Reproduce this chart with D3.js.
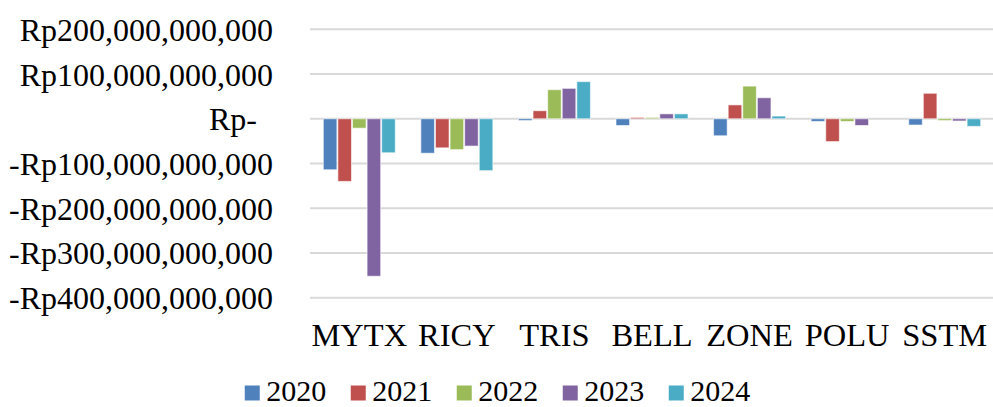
<!DOCTYPE html>
<html>
<head>
<meta charset="utf-8">
<script src="https://cdn.jsdelivr.net/npm/d3@7"></script>
<style>
  body { margin: 0; background: #fff; }
  svg { display: block; }
</style>
</head>
<body>
<div id="chart"></div>
<script>
const width = 993
const height = 407

// data (Rupiah)
const companies = ["MYTX", "RICY", "TRIS", "BELL", "ZONE", "POLU", "SSTM"]
const years = ["2020", "2021", "2022", "2023", "2024"]
const v2020 = [-114e9, -77e9, -4e9, -15e9, -38e9, -6e9, -14e9]
const v2021 = [-140e9, -65e9, 18e9, 3e9, 31e9, -51e9, 57e9]
const v2022 = [-21e9, -69e9, 65e9, 3e9, 73e9, -6e9, -4e9]
const v2023 = [-352e9, -61e9, 68e9, 11e9, 47e9, -15e9, -5e9]
const v2024 = [-76e9, -116e9, 83e9, 11e9, 6e9, 0, -17e9]
const yTicks = [200e9, 100e9, 0, -100e9, -200e9, -300e9, -400e9]
const colors = ["#4F81BD", "#C0504D", "#9BBB59", "#8064A2", "#4BACC6"]

const series = [v2020, v2021, v2022, v2023, v2024]

const font = "'Liberation Serif', 'Times New Roman', serif"

const svg = d3.select("#chart").append("svg")
    .attr("width", width)
    .attr("height", height)

const x0 = d3.scaleBand()
    .domain(companies)
    .range([310.5, 993.5])
    .paddingInner(0.252)
    .paddingOuter(0.126)

const x1 = d3.scaleBand()
    .domain(years)
    .range([0, x0.bandwidth()])

const y = d3.scaleLinear()
    .domain([-400e9, 200e9])
    .range([297.7, 29.3])

// gridlines
svg.append("g")
    .selectAll("line")
    .data(yTicks)
    .join("line")
    .attr("x1", 310)
    .attr("x2", width)
    .attr("y1", d => y(d))
    .attr("y2", d => y(d))
    .attr("stroke", "#d9d9d9")
    .attr("stroke-width", 2)

// y labels
const fmt = d3.format(",")
const yLabel = d => d === 0 ? "Rp-" : (d < 0 ? "-Rp" : "Rp") + fmt(Math.abs(d))

svg.append("g")
    .selectAll("text")
    .data(yTicks)
    .join("text")
    .attr("x", d => d === 0 ? 257 : 273)
    .attr("y", d => y(d))
    .attr("dy", "0.36em")
    .attr("text-anchor", "end")
    .attr("font-family", font)
    .attr("font-size", 32)
    .attr("fill", "#000")
    .text(yLabel)

// bars
const groups = svg.append("g")
    .selectAll("g")
    .data(companies)
    .join("g")
    .attr("transform", d => `translate(${x0(d)},0)`)

groups.selectAll("rect")
    .data((c, i) => years.map((yr, k) => ({year: yr, value: series[k][i], color: colors[k]})))
    .join("rect")
    .attr("x", d => x1(d.year) + 0.5)
    .attr("width", x1.bandwidth() - 1)
    .attr("y", d => y(Math.max(0, d.value)))
    .attr("height", d => Math.abs(y(d.value) - y(0)))
    .attr("fill", d => d.color)
    .attr("stroke", "#fff")
    .attr("stroke-opacity", 0.6)
    .attr("stroke-width", 1)

// x labels
svg.append("g")
    .selectAll("text")
    .data(companies)
    .join("text")
    .attr("x", d => x0(d) + x0.bandwidth() / 2)
    .attr("y", 346)
    .attr("text-anchor", "middle")
    .attr("font-family", font)
    .attr("font-size", 32.5)
    .attr("fill", "#000")
    .text(d => d)

// legend
const legend = svg.append("g")
const items = legend.selectAll("g")
    .data(years)
    .join("g")

items.append("rect")
    .attr("width", 15)
    .attr("height", 15)
    .attr("y", 385.5)
    .attr("fill", (d, i) => colors[i])

items.append("text")
    .attr("x", 21.5)
    .attr("y", 400.5)
    .attr("font-family", font)
    .attr("font-size", 30)
    .attr("fill", "#000")
    .text(d => d)

let cx = 0
const pos = []
items.each(function () {
    pos.push(cx)
    const w = d3.select(this).select("text").node().getComputedTextLength()
    cx += 21.5 + w + 24.5
})
const total = cx - 24.5
const start = width / 2 - total / 2 + 1
items.attr("transform", (d, i) => `translate(${start + pos[i]},0)`)
</script>
</body>
</html>
